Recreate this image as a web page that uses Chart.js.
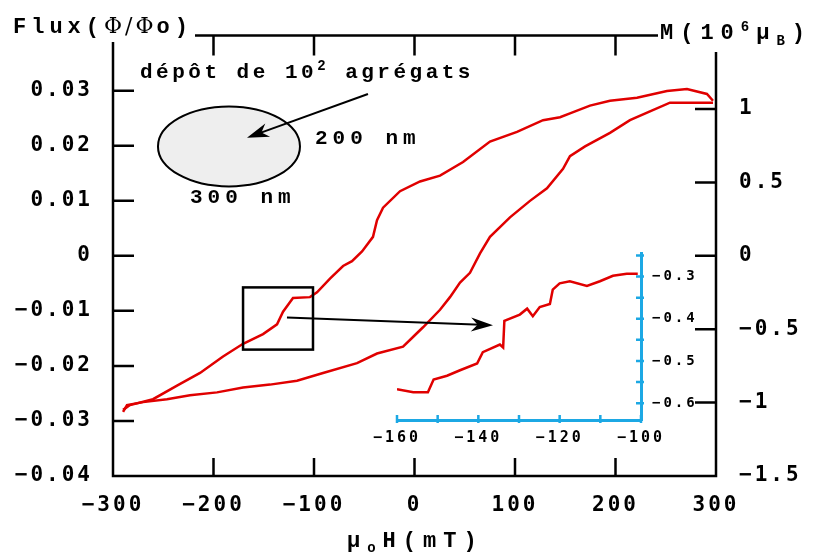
<!DOCTYPE html>
<html lang="fr">
<head>
<meta charset="UTF-8">
<title>Flux et M en fonction de μoH</title>
<script src="https://cdn.jsdelivr.net/npm/chart.js@4"></script>
<style>
    body { margin: 0; background: #fff; }
    #wrap { position: relative; width: 816px; height: 554px; font-family: "Liberation Mono", monospace; font-weight: bold; color: #000; }
    canvas { position: absolute; }
    #main { left: 0; top: 0; }
    #inset { left: 367px; top: 234px; }
    .lbl { position: absolute; white-space: nowrap; font-size: 21px; line-height: 21px; letter-spacing: 5px; }
    .phi { font-family: "DejaVu Serif", serif; font-weight: normal; letter-spacing: 3px; }
    .sm { font-size: 14px; }
</style>
</head>
<body>
<div id="wrap">
    <canvas id="main" width="816" height="554"></canvas>
    <canvas id="inset" width="344" height="221"></canvas>

    <div class="lbl" style="left:13px; top:15px; font-size:22px; letter-spacing:5px;">Flux(<span class="phi">Φ/Φ</span>o)</div>
    <div class="lbl" style="left:660px; top:17px; font-size:22px; letter-spacing:7px;">M(10<sup class="sm">6</sup>μ<sub class="sm">B</sub>)</div>
    <div class="lbl" style="left:140px; top:56px; letter-spacing:3.5px;">dépôt de 10<sup class="sm">2</sup> agrégats</div>
    <div class="lbl" style="left:315px; top:128px;">200 nm</div>
    <div class="lbl" style="left:190px; top:187px;">300 nm</div>
    <div class="lbl" style="left:347px; top:531px; font-size:22px; letter-spacing:7px;">μ<sub class="sm">o</sub>H(mT)</div>
</div>

<script>
    // descending branch (coming from +300 mT)
    const fieldDown = [297, 291, 271.1, 251.2, 221.4, 194.5, 174.6, 154.7, 144.8, 127.9, 102, 75.1, 48.3, 25.4, 5.5,
        -14.4, -31.3, -37.3, -41.3, -52.2, -62.2, -71.1, -84.1, -97, -104, -120.9, -130.8, -136.8, -150.7, -170.6,
        -190.5, -213.4, -236.3, -260.2, -283.1, -290];
    const fluxDown = [0.02817, 0.0294, 0.03029, 0.02993, 0.0287, 0.02817, 0.02728, 0.02587, 0.02517, 0.02464, 0.02252,
        0.02075, 0.01704, 0.01457, 0.01351, 0.01174, 0.00874, 0.00645, 0.00344, 0.00079, -0.00097, -0.00185, -0.00415,
        -0.00662, -0.00751, -0.00768, -0.01015, -0.01245, -0.01422, -0.01598, -0.01828, -0.02128, -0.02358, -0.02605,
        -0.02711, -0.02799];

    // ascending branch (coming from -300 mT)
    const fieldUp = [-290, -286.1, -270.1, -246.3, -223.4, -196.5, -170.6, -143.8, -116.9, -91, -57.2, -37.3, -11.4,
        -1.5, 8.5, 25.4, 35.3, 45.3, 55.2, 65.2, 75.1, 95, 114.9, 131.8, 147.8, 154.7, 169.7, 194.5, 214.4, 234.3,
        254.2, 297];
    const fluxUp = [-0.02834, -0.02711, -0.02658, -0.02605, -0.02534, -0.02481, -0.02393, -0.0234, -0.02269, -0.02128,
        -0.01951, -0.01775, -0.01651, -0.01475, -0.01298, -0.0098, -0.00751, -0.00486, -0.00309, 0.00044, 0.00344,
        0.00698, 0.00998, 0.01227, 0.01581, 0.0181, 0.01987, 0.02234, 0.02464, 0.02623, 0.02781, 0.02781];

    // zoom (inset), M in 10^6 μB
    const insetField = [-160, -156, -152.4, -151, -147.7, -144.5, -140.3, -138.9, -134.7, -133.9, -133.6, -129.8, -128,
        -126.6, -124.9, -122.4, -121.7, -120, -117.5, -113.3, -110.1, -106.9, -103.5, -100.8];
    const insetM = [-0.567, -0.574, -0.574, -0.544, -0.535, -0.522, -0.506, -0.479, -0.461, -0.468, -0.405, -0.39, -0.376,
        -0.394, -0.372, -0.365, -0.331, -0.316, -0.311, -0.322, -0.311, -0.298, -0.293, -0.293];

    const xTicks = [-300, -200, -100, 0, 100, 200, 300];
    const fluxTicks = [-0.04, -0.03, -0.02, -0.01, 0, 0.01, 0.02, 0.03, 0.04];
    const mTicks = [-1.5, -1, -0.5, 0, 0.5, 1, 1.5];
    const insetXTicks = [-160, -150, -140, -130, -120, -110, -100];
    const insetYTicks = [-0.6, -0.55, -0.5, -0.45, -0.4, -0.35, -0.3, -0.25];

    const red = '#e00000';
    const blue = '#1ca8e4';
    const numFont = { family: 'DejaVu Sans Mono', size: 21, weight: 'bold' };
    const minus = s => String(s).replace('-', '\u2212');
    const asTicks = arr => s => { s.ticks = arr.map(v => ({ value: v })); };

    function arrow(ctx, x1, y1, x2, y2) {
        const a = Math.atan2(y2 - y1, x2 - x1), len = 22, half = 7;
        const c = Math.cos(a), s = Math.sin(a);
        ctx.beginPath();
        ctx.moveTo(x1, y1);
        ctx.lineTo(x2 - c * 12, y2 - s * 12);
        ctx.stroke();
        const bx = x2 - c * len, by = y2 - s * len;
        ctx.beginPath();
        ctx.moveTo(x2, y2);
        ctx.lineTo(bx - s * half, by + c * half);
        ctx.lineTo(x2 - c * len * 0.7, y2 - s * len * 0.7);
        ctx.lineTo(bx + s * half, by - c * half);
        ctx.closePath();
        ctx.fill();
    }

    const mainDecor = {
        id: 'mainDecor',
        beforeDraw(c) { c.ctx.letterSpacing = '3px'; },
        afterDatasetsDraw(c) {
            const { ctx, chartArea: a } = c;
            const x = c.scales.x, y = c.scales.y, y2 = c.scales.y2;
            const T = 21;
            ctx.save();
            ctx.strokeStyle = '#000';
            ctx.fillStyle = '#000';
            ctx.lineWidth = 2.5;

            // frame, open where the axis titles sit
            ctx.beginPath();
            ctx.moveTo(a.left, 42); ctx.lineTo(a.left, a.bottom);
            ctx.lineTo(a.right, a.bottom); ctx.lineTo(a.right, 52);
            ctx.moveTo(195, a.top); ctx.lineTo(658, a.top);
            // inward ticks
            fluxTicks.slice(1, -1).forEach(v => {
                const p = y.getPixelForValue(v);
                ctx.moveTo(a.left, p); ctx.lineTo(a.left + T, p);
            });
            mTicks.slice(1, -1).forEach(v => {
                const p = y2.getPixelForValue(v);
                ctx.moveTo(a.right, p); ctx.lineTo(a.right - T, p);
            });
            xTicks.slice(1, -1).forEach(v => {
                const p = x.getPixelForValue(v);
                ctx.moveTo(p, a.top); ctx.lineTo(p, a.top + T - 1);
                ctx.moveTo(p, a.bottom); ctx.lineTo(p, a.bottom - T + 3);
            });
            ctx.stroke();

            // sample sketch
            ctx.beginPath();
            ctx.ellipse(x.getPixelForValue(-184.6), y.getPixelForValue(0.01987), 71, 40, 0, 0, Math.PI * 2);
            ctx.fillStyle = '#eeeeee';
            ctx.fill();
            ctx.lineWidth = 2;
            ctx.stroke();
            ctx.fillStyle = '#000';
            arrow(ctx, x.getPixelForValue(-46.3), y.getPixelForValue(0.0294),
                x.getPixelForValue(-166.7), y.getPixelForValue(0.02146));

            // zoom box and pointer to the inset
            const rx1 = x.getPixelForValue(-170.6), rx2 = x.getPixelForValue(-101);
            const ry1 = y.getPixelForValue(-0.00574), ry2 = y.getPixelForValue(-0.01704);
            ctx.lineWidth = 2.5;
            ctx.strokeRect(rx1, ry1, rx2 - rx1, ry2 - ry1);
            ctx.lineWidth = 2;
            arrow(ctx, x.getPixelForValue(-126.9), y.getPixelForValue(-0.01121),
                x.getPixelForValue(78.1), y.getPixelForValue(-0.01263));
            ctx.restore();
        }
    };

    new Chart(document.getElementById('main'), {
        type: 'line',
        data: {
            datasets: [
                { data: fieldDown.map((v, i) => ({ x: v, y: fluxDown[i] })), borderColor: red, borderWidth: 2.5, pointRadius: 0 },
                { data: fieldUp.map((v, i) => ({ x: v, y: fluxUp[i] })), borderColor: red, borderWidth: 2.5, pointRadius: 0 }
            ]
        },
        options: {
            responsive: false,
            animation: false,
            layout: { padding: { top: 23, left: 0, right: 0, bottom: 0 } },
            plugins: { legend: { display: false }, tooltip: { enabled: false } },
            scales: {
                x: {
                    type: 'linear', min: -300, max: 300,
                    afterBuildTicks: asTicks(xTicks),
                    afterFit: s => { s.height = 78; },
                    grid: { display: false, drawTicks: false }, border: { display: false },
                    ticks: { font: numFont, color: '#000', padding: 17, autoSkip: false, maxRotation: 0,
                        callback: v => minus(v) }
                },
                y: {
                    position: 'left', min: -0.04, max: 0.04,
                    afterBuildTicks: asTicks(fluxTicks),
                    afterFit: s => { s.width = 113; },
                    grid: { display: false, drawTicks: false }, border: { display: false },
                    ticks: { font: numFont, color: '#000', padding: 20,
                        callback: v => Math.abs(v - 0.04) < 1e-9 ? '' : (Math.abs(v) < 1e-9 ? '0' : minus(v.toFixed(2))) }
                },
                y2: {
                    position: 'right', min: -1.5, max: 1.5,
                    afterBuildTicks: asTicks(mTicks),
                    afterFit: s => { s.width = 100; },
                    grid: { display: false, drawTicks: false }, border: { display: false },
                    ticks: { font: numFont, color: '#000', padding: 23,
                        callback: v => Math.abs(v - 1.5) < 1e-9 ? '' : minus(+v.toFixed(1)) }
                }
            }
        },
        plugins: [mainDecor]
    });

    const insetDecor = {
        id: 'insetDecor',
        beforeDraw(c) { c.ctx.letterSpacing = '3px'; },
        afterDraw(c) {
            const { ctx, chartArea: a } = c;
            ctx.save();
            ctx.strokeStyle = blue;
            ctx.lineWidth = 2.5;
            ctx.beginPath();
            insetXTicks.forEach(v => {
                const p = c.scales.x.getPixelForValue(v);
                ctx.moveTo(p, a.bottom + 3); ctx.lineTo(p, a.bottom - 5);
            });
            insetYTicks.forEach(v => {
                const p = c.scales.y.getPixelForValue(v);
                ctx.moveTo(a.right + 3, p); ctx.lineTo(a.right - 5, p);
            });
            ctx.stroke();
            ctx.restore();
        }
    };

    new Chart(document.getElementById('inset'), {
        type: 'line',
        data: {
            datasets: [{ data: insetField.map((v, i) => ({ x: v, y: insetM[i] })), borderColor: red, borderWidth: 2.5, pointRadius: 0 }]
        },
        options: {
            responsive: false,
            animation: false,
            layout: { padding: { left: 30, top: 10, right: 0, bottom: 0 } },
            plugins: { legend: { display: false }, tooltip: { enabled: false } },
            scales: {
                x: {
                    type: 'linear', min: -160, max: -100,
                    afterBuildTicks: asTicks(insetXTicks),
                    afterFit: s => { s.height = 35; },
                    grid: { display: false, drawTicks: false }, border: { display: true, color: blue, width: 3 },
                    ticks: { font: { family: 'DejaVu Sans Mono', size: 15, weight: 'bold' }, color: '#000', padding: 9,
                        autoSkip: false, maxRotation: 0, callback: v => v % 20 === 0 ? minus(v) : '' }
                },
                y: {
                    position: 'right', min: -0.64, max: -0.245,
                    afterBuildTicks: asTicks(insetYTicks),
                    afterFit: s => { s.width = 70; },
                    grid: { display: false, drawTicks: false }, border: { display: true, color: blue, width: 3 },
                    ticks: { font: { family: 'DejaVu Sans Mono', size: 14, weight: 'bold' }, color: '#000', padding: 11,
                        callback: v => Math.abs(Math.round(v * 10) - v * 10) < 1e-6 ? minus(v.toFixed(1)) : '' }
                }
            }
        },
        plugins: [insetDecor]
    });
</script>
</body>
</html>
